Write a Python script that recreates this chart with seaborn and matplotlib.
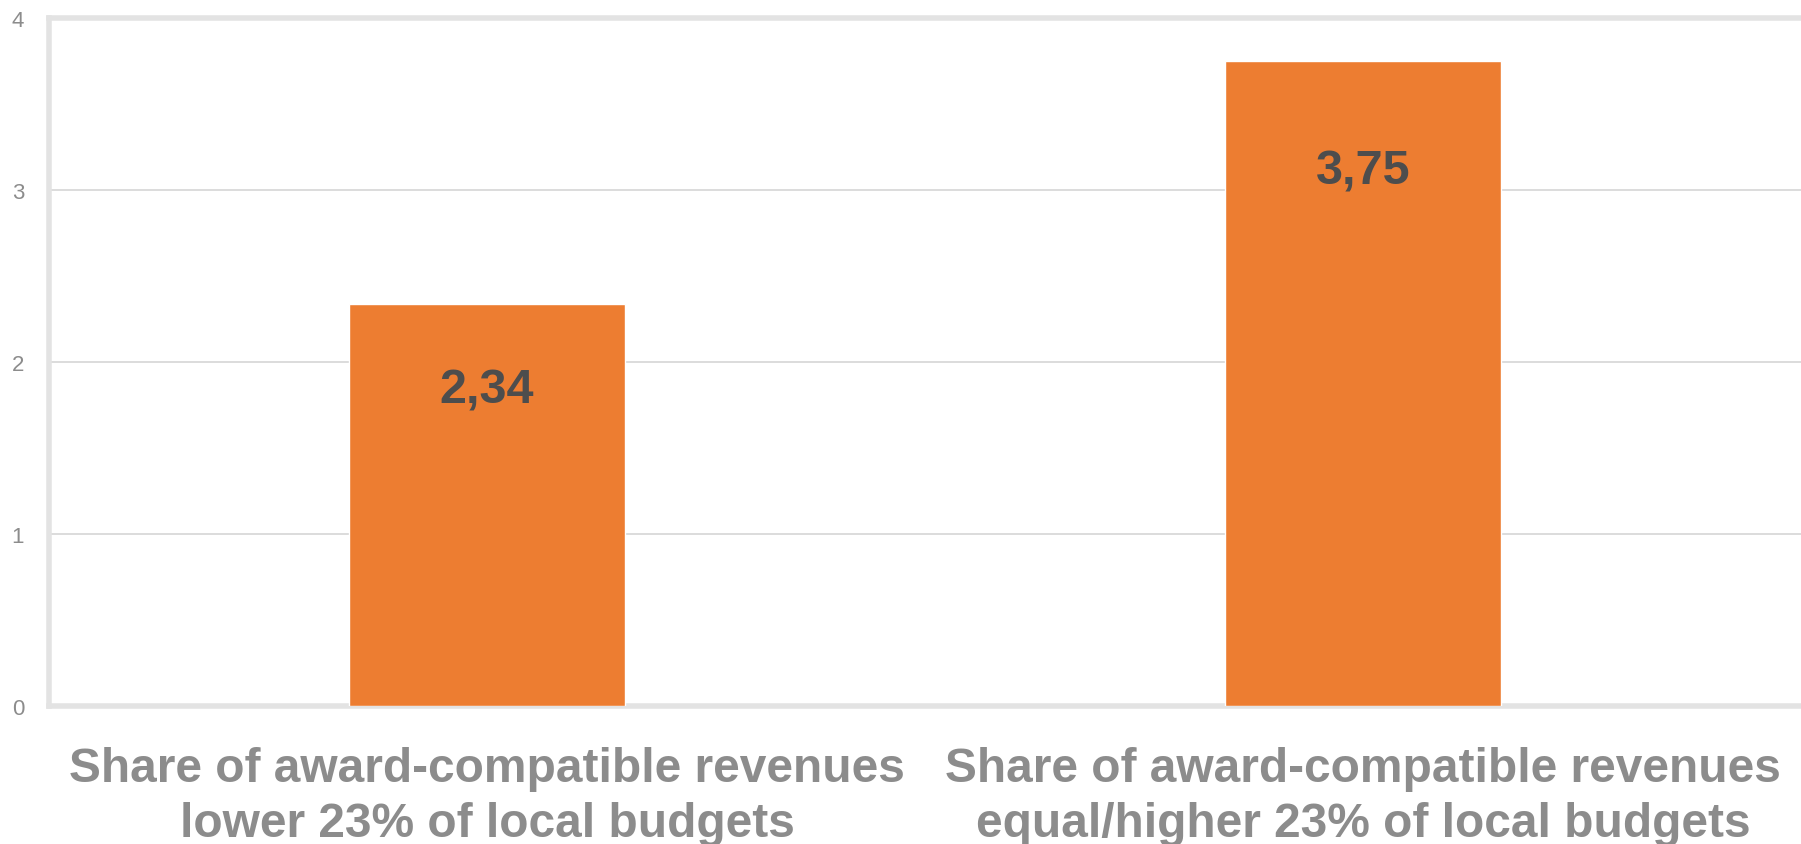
import pandas as pd
import numpy as np
import matplotlib
matplotlib.use("Agg")
import matplotlib.pyplot as plt
import seaborn as sns

categories = ["Share of award-compatible revenues\nlower 23% of local budgets",
              "Share of award-compatible revenues\nequal/higher 23% of local budgets"]
values = [2.34, 3.75]
value_labels = ["2,34", "3,75"]
yticks = [0, 1, 2, 3, 4]

sns.set_style("white")
plt.rcParams['font.family'] = ['Liberation Sans', 'DejaVu Sans']

df = pd.DataFrame({"cat": categories, "val": values})

fig = plt.figure(figsize=(18.01, 8.45), dpi=100)
ax = fig.add_axes([49 / 1801, 1 - 707 / 845, 1 - 49 / 1801, 688 / 845])

sns.barplot(data=df, x="cat", y="val", color="#ed7d31", saturation=1, width=0.315, ax=ax, zorder=3)

ax.set_ylim(0, 4)
ax.set_xlim(-0.5, 1.5)
ax.set_yticks(yticks)
ax.set_yticklabels([str(t) for t in yticks], color="#8c8c8c", fontsize=16)
ax.tick_params(axis="y", length=0, pad=18)
ax.tick_params(axis="x", length=0, pad=29)
ax.set_xticks(range(len(categories)))
ax.set_xticklabels(categories, fontsize=34.5, fontweight="bold", color="#8c8c8c", linespacing=1.27)
ax.set_xlabel("")
ax.set_ylabel("")

for y in [1, 2, 3]:
    ax.axhline(y, color="#d9d9d9", lw=1.3, zorder=1)

for side in ["left", "top", "bottom"]:
    ax.spines[side].set_color("#e3e3e3")
    ax.spines[side].set_linewidth(4)
ax.spines["right"].set_visible(False)

# label drop below bar top, as placed in the original
for i, (v, lab, drop) in enumerate(zip(values, value_labels, [0.50, 0.64])):
    ax.text(i, v - drop, lab, ha="center", va="center", fontsize=35, fontweight="bold",
            color="#4d4d4d", zorder=4)

fig.savefig("out.png", dpi=100)
